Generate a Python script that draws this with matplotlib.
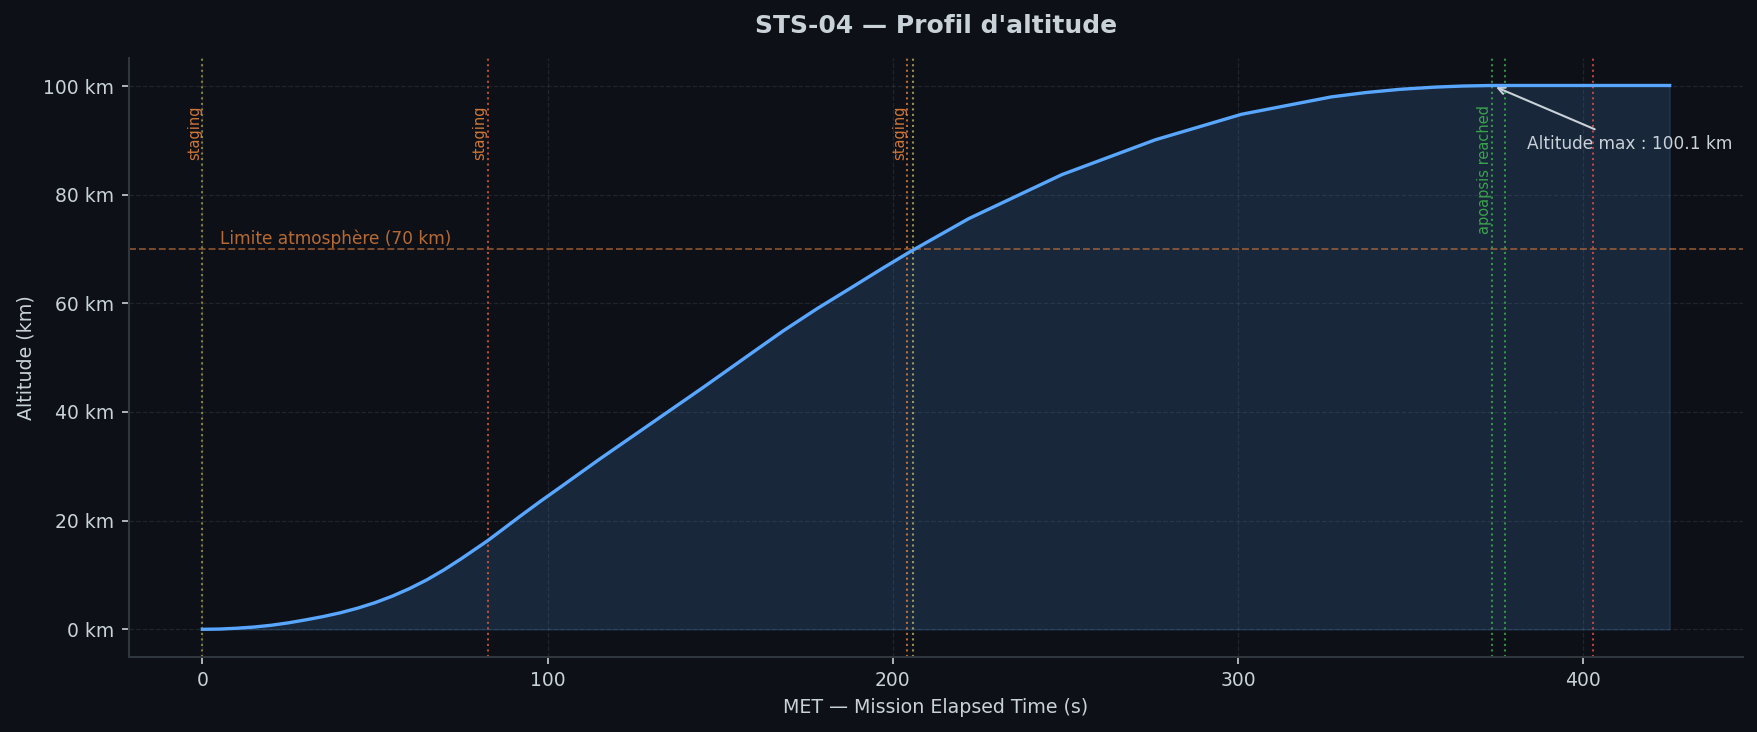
import matplotlib
matplotlib.use("Agg")
import matplotlib.pyplot as plt
from matplotlib.ticker import FuncFormatter

# altitude profile
met_s = [0, 5, 10, 15, 20, 25, 30, 35, 40, 45, 50, 55, 60, 65, 70, 75, 82.6, 87, 92, 98, 104,
         115, 130, 145, 159, 168.4, 178, 188, 197.4, 205, 216.7, 222, 249, 276, 301, 327, 337,
         347, 357, 365, 373.6, 400, 425]
alt_km = [0, 0.05, 0.2, 0.42, 0.75, 1.2, 1.75, 2.35, 3.05, 3.9, 4.9, 6.1, 7.5, 9.1, 10.95, 13.0,
          16.3, 18.4, 20.8, 23.6, 26.3, 31.3, 37.9, 44.5, 50.8, 55.0, 59.0, 62.9, 66.6, 69.5,
          73.7, 75.6, 83.7, 90.1, 94.8, 98.0, 98.8, 99.4, 99.8, 100.0, 100.1, 100.1, 100.1]

# events (vertical markers)
event_t = [0, 82.6, 204.2, 205.9, 373.6, 377.2, 402.9]
event_label = ["staging", "staging", "staging", "", "apoapsis reached", "", ""]
event_color = ["#ada244", "#f0613e", "#f0883e", "#c8bd6a", "#3fb950", "#3fb950", "#f85149"]
label_color = {"staging": "#f0883e", "apoapsis reached": "#3fb950"}

atmo_km = 70
max_t, max_alt = 373.6, 100.1

BG = "#0d1117"
FG = "#c9d1d9"
GRID = "#30363d"

fig = plt.figure(figsize=(1757 / 150, 732 / 150), dpi=150, facecolor=BG)
ax = fig.add_axes([129 / 1757, 1 - 656.5 / 732, (1743 - 129) / 1757, (656.5 - 58.3) / 732])
ax.set_facecolor(BG)

ax.fill_between(met_s, alt_km, color="#58a6ff", alpha=0.15, lw=0.8)
ax.plot(met_s, alt_km, color="#58a6ff", lw=1.6, zorder=4)

ax.axhline(atmo_km, color="#f0883e", ls="--", lw=0.9, alpha=0.5)
ax.text(5, atmo_km + 1, "Limite atmosphère (70 km)", color="#f0883e", alpha=0.75, fontsize=8.2,
        va="baseline", ha="left")

for t, lab, col in zip(event_t, event_label, event_color):
    ax.axvline(t, color=col, ls=":", lw=1.0, alpha=0.75)
    if lab:
        ax.text(t, 96.5, lab, rotation=90, ha="right", va="top", fontsize=7,
                color=label_color[lab], alpha=0.85)

ax.annotate(f"Altitude max : {max_alt:.1f} km", xy=(max_t, max_alt), xytext=(383.6, 88.4),
            color=FG, fontsize=8.2, ha="left", va="baseline",
            arrowprops=dict(arrowstyle="->", color=FG, lw=1.0))

ax.yaxis.set_major_formatter(FuncFormatter(lambda v, _: f"{v:.0f} km"))
ax.grid(True, color=GRID, ls="--", lw=0.6, alpha=0.55)
ax.set_axisbelow(True)
for side in ["top", "right"]:
    ax.spines[side].set_visible(False)
for side in ["left", "bottom"]:
    ax.spines[side].set_color(GRID)
    ax.spines[side].set_linewidth(1.0)
ax.tick_params(colors=FG, labelsize=9)

ax.set_xlabel("MET — Mission Elapsed Time (s)", color=FG, fontsize=9.1)
ax.set_ylabel("Altitude (km)", color=FG, fontsize=9.1)
ax.set_title("STS-04 — Profil d'altitude", color=FG, fontsize=12, fontweight="bold", pad=12)

fig.savefig("out.png", dpi=150, facecolor=BG)
